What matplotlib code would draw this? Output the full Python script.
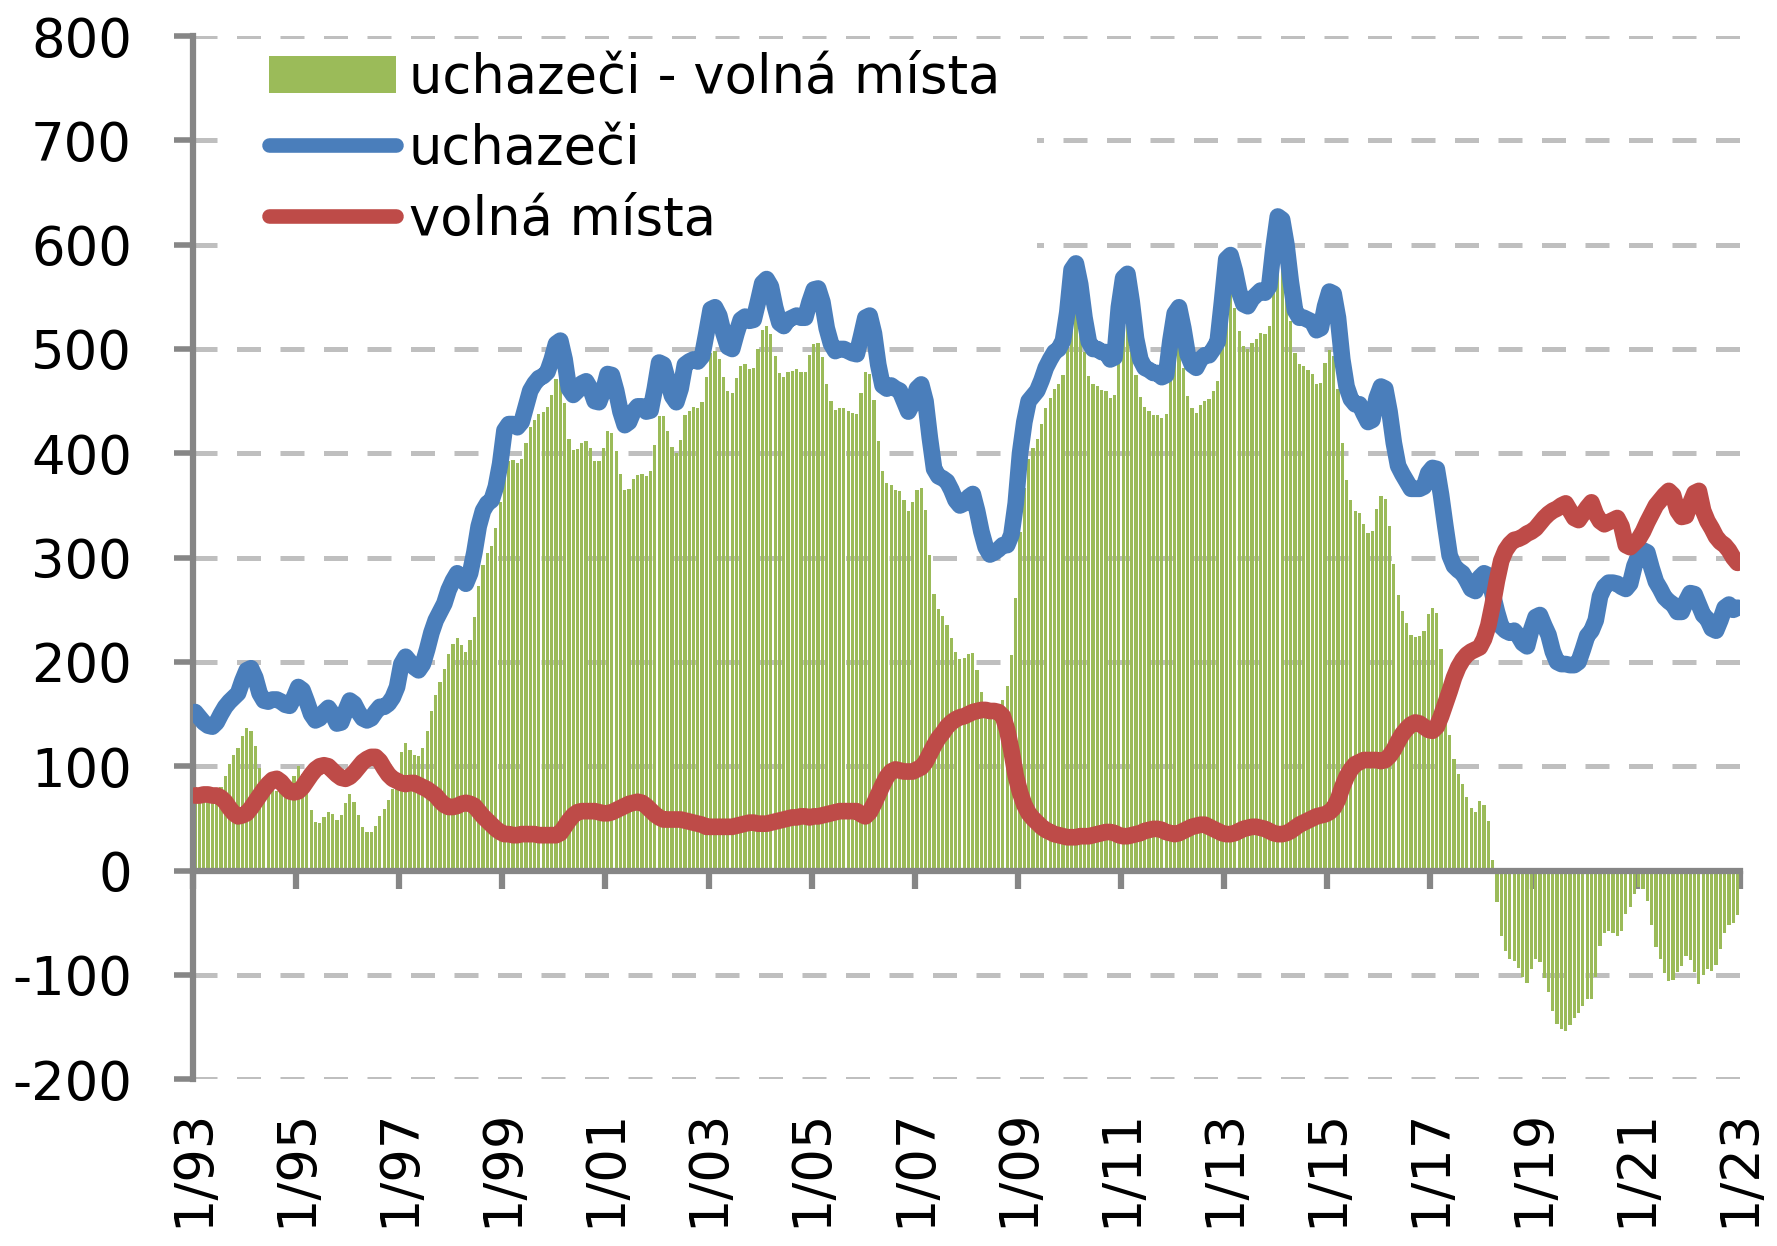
import matplotlib
matplotlib.use("Agg")
import numpy as np
import matplotlib.pyplot as plt
from matplotlib.lines import Line2D
from matplotlib.patches import Patch

plt.rcParams['font.family'] = ['DejaVu Sans']
plt.rcParams['axes.unicode_minus'] = False

# ---- data (thousands), monthly Jan 1993 - Dec 2022 ----
uchazeci = [
    152, 147, 142, 139, 138, 142, 150, 157, 162, 166, 170, 182,   # 1993
    192, 194, 185, 170, 163, 162, 164, 164, 162, 159, 158, 166,   # 1994
    176, 173, 162, 150, 144, 146, 152, 156, 150, 141, 142, 153,   # 1995
    163, 160, 152, 146, 144, 146, 152, 157, 157, 160, 166, 176,   # 1996
    198, 205, 200, 195, 192, 198, 212, 228, 240, 248, 256, 269,   # 1997
    278, 285, 280, 275, 285, 305, 330, 345, 352, 355, 368, 390,   # 1998
    422, 428, 428, 425, 430, 445, 460, 467, 472, 474, 478, 490,   # 1999
    505, 508, 490, 462, 456, 460, 467, 469, 462, 450, 449, 460,   # 2000
    476, 475, 460, 440, 427, 430, 440, 445, 445, 440, 441, 462,   # 2001
    487, 485, 470, 455, 449, 462, 485, 488, 490, 488, 493, 515,   # 2002
    538, 540, 532, 515, 502, 500, 515, 528, 531, 527, 528, 545,   # 2003
    563, 567, 560, 540, 525, 522, 528, 530, 532, 530, 530, 545,   # 2004
    557, 558, 545, 520, 505, 498, 500, 500, 498, 496, 495, 512,   # 2005
    530, 532, 515, 485, 465, 462, 465, 462, 460, 450, 440, 448,   # 2006
    462, 466, 450, 415, 385, 378, 376, 373, 365, 355, 350, 352,   # 2007
    358, 361, 345, 325, 310, 303, 305, 308, 312, 312, 322, 352,   # 2008
    400, 430, 450, 455, 460, 470, 482, 490, 497, 500, 508, 535,   # 2009
    576, 582, 562, 530, 507, 500, 500, 497, 497, 490, 492, 540,   # 2010
    568, 572, 545, 510, 490, 482, 480, 477, 477, 473, 475, 508,   # 2011
    534, 540, 520, 495, 485, 482, 490, 494, 494, 500, 507, 545,   # 2012
    586, 590, 575, 555, 543, 541, 548, 552, 556, 554, 560, 597,   # 2013
    627, 624, 600, 565, 537, 530, 530, 528, 526, 518, 520, 541,   # 2014
    555, 553, 530, 490, 464, 452, 447, 447, 438, 430, 432, 453,   # 2015
    464, 462, 440, 410, 388, 380, 373, 366, 366, 366, 368, 381,   # 2016
    386, 385, 360, 330, 302, 292, 288, 285, 278, 270, 268, 281,   # 2017
    285, 283, 265, 248, 234, 230, 228, 230, 225, 218, 215, 231,   # 2018
    243, 245, 235, 226, 210, 200, 198, 198, 197, 197, 200, 212,   # 2019
    225, 230, 240, 263, 272, 276, 276, 275, 272, 270, 275, 292,   # 2020
    302, 307, 305, 290, 277, 270, 262, 258, 255, 248, 248, 258,   # 2021
    266, 265, 255, 245, 241, 232, 230, 240, 252, 255, 250, 252,   # 2022
]

volna_mista = [
    72, 72, 73, 73, 72, 72, 70, 66, 60, 55, 52, 53,               # 1993
    55, 60, 66, 72, 78, 83, 87, 88, 85, 80, 76, 75,               # 1994
    76, 80, 86, 92, 97, 100, 101, 100, 96, 92, 89, 88,            # 1995
    90, 94, 99, 104, 107, 109, 109, 105, 98, 92, 88, 86,          # 1996
    84, 83, 84, 84, 82, 80, 78, 75, 72, 67, 63, 61,               # 1997
    61, 62, 64, 65, 64, 62, 57, 52, 48, 44, 40, 37,               # 1998
    35, 35, 34, 34, 35, 35, 35, 35, 34, 34, 34, 34,               # 1999
    34, 36, 42, 48, 53, 56, 57, 57, 57, 57, 56, 55,               # 2000
    55, 56, 58, 60, 62, 64, 65, 66, 65, 62, 58, 54,               # 2001
    51, 49, 49, 49, 49, 49, 48, 47, 46, 45, 44, 42,               # 2002
    42, 42, 42, 42, 42, 42, 43, 44, 45, 46, 46, 45,               # 2003
    45, 45, 46, 47, 48, 49, 50, 51, 51, 52, 52, 51,               # 2004
    52, 52, 53, 54, 55, 56, 57, 57, 57, 57, 57, 54,               # 2005
    52, 56, 64, 73, 82, 90, 95, 97, 96, 95, 95, 95,               # 2006
    97, 99, 104, 112, 120, 127, 132, 138, 142, 145, 147, 148,     # 2007
    150, 152, 153, 154, 154, 153, 153, 152, 148, 135, 115, 91,    # 2008
    75, 63, 55, 50, 46, 42, 39, 37, 35, 34, 33, 32,               # 2009
    32, 32, 33, 33, 33, 34, 35, 36, 37, 37, 36, 34,               # 2010
    33, 33, 34, 35, 36, 38, 39, 40, 40, 39, 37, 36,               # 2011
    35, 36, 38, 40, 42, 43, 44, 44, 42, 40, 38, 36,               # 2012
    35, 35, 36, 38, 40, 41, 42, 42, 41, 40, 38, 36,               # 2013
    35, 35, 36, 38, 41, 44, 46, 48, 50, 52, 53, 54,               # 2014
    56, 60, 68, 80, 90, 97, 102, 104, 106, 106, 106, 106,         # 2015
    105, 106, 110, 116, 124, 131, 136, 140, 142, 141, 138, 135,   # 2016
    134, 138, 148, 160, 172, 185, 195, 202, 207, 210, 212, 214,   # 2017
    222, 235, 255, 278, 297, 307, 313, 317, 318, 320, 323, 325,   # 2018
    328, 333, 338, 342, 345, 347, 350, 352, 345, 338, 336, 342,   # 2019
    348, 353, 342, 335, 332, 334, 336, 338, 330, 312, 310, 314,   # 2020
    318, 325, 334, 342, 350, 355, 360, 364, 360, 345, 339, 340,   # 2021
    352, 362, 364, 345, 335, 328, 320, 315, 312, 307, 300, 295,   # 2022
]

tick_labels = ["1/93", "1/95", "1/97", "1/99", "1/01", "1/03", "1/05", "1/07",
               "1/09", "1/11", "1/13", "1/15", "1/17", "1/19", "1/21", "1/23"]
y_ticks = [-200, -100, 0, 100, 200, 300, 400, 500, 600, 700, 800]
series_names = ["uchazeči - volná místa", "uchazeči", "volná místa"]

U = np.array(uchazeci, dtype=float)
V = np.array(volna_mista, dtype=float)
rozdil = U - V
n = len(U)
xpos = np.arange(n) + 0.5

GREEN = '#9BBB59'
BLUE = '#4A7EBB'
RED = '#BE4B48'
AXIS = '#868686'
GRID = '#BFBFBF'

fig = plt.figure(figsize=(17.77, 12.46), dpi=100)
ax = fig.add_axes([0.1086, 0.1338, 0.979 - 0.1086, 0.9711 - 0.1338])

# grid (top line drawn above the legend box)
for yv in y_ticks:
    if yv != 0:
        ax.axhline(yv, color=GRID, lw=3.6, ls=(0, (4.8, 3.9)),
                   zorder=1.8 if yv == 800 else 1)

ax.bar(xpos, rozdil, width=0.75, color=GREEN, zorder=2, linewidth=0)
ax.plot(xpos, U, color=BLUE, lw=12, zorder=3,
        solid_joinstyle='round', solid_capstyle='round')
ax.plot(xpos, V, color=RED, lw=12, zorder=4,
        solid_joinstyle='round', solid_capstyle='round')

ax.set_xlim(0, n)
ax.set_ylim(-200, 800)

for s in ['top', 'right']:
    ax.spines[s].set_visible(False)
ax.spines['left'].set_color(AXIS)
ax.spines['left'].set_linewidth(4.5)
ax.spines['bottom'].set_color(AXIS)
ax.spines['bottom'].set_linewidth(4.5)
ax.spines['bottom'].set_position(('data', 0))
ax.spines['bottom'].set_zorder(5)

ax.set_yticks(y_ticks)
ax.set_yticklabels([str(v) for v in y_ticks])
ax.tick_params(axis='y', direction='out', length=14, width=4, color=AXIS,
               pad=30, labelsize=38, labelcolor='black')

xt = np.arange(0, n + 1, 24)
ax.set_xticks(xt)
ax.tick_params(axis='x', direction='out', length=13, width=4.5, color=AXIS,
               labelbottom=False)
for pos, lab in zip(xt, tick_labels):
    ax.annotate(lab, xy=(pos, -200), xycoords='data', xytext=(0, -21),
                textcoords='offset points', rotation=90, ha='center',
                va='top', fontsize=38, annotation_clip=False)

handles = [Patch(facecolor=GREEN, edgecolor='none'),
           Line2D([], [], color=BLUE, lw=10.5, solid_capstyle='round'),
           Line2D([], [], color=RED, lw=10.5, solid_capstyle='round')]
leg = ax.legend(handles, series_names, loc='upper left',
                bbox_to_anchor=(232 / 1777, 1 - 15 / 1246),
                bbox_transform=fig.transFigure,
                frameon=True, facecolor='white', edgecolor='none',
                framealpha=1, fancybox=False, fontsize=38,
                handlelength=2.4, handletextpad=0.25, labelspacing=0.36,
                borderpad=0.7, borderaxespad=0, handleheight=0.7)
leg.set_zorder(1.5)

fig.savefig('out.png', dpi=100)
